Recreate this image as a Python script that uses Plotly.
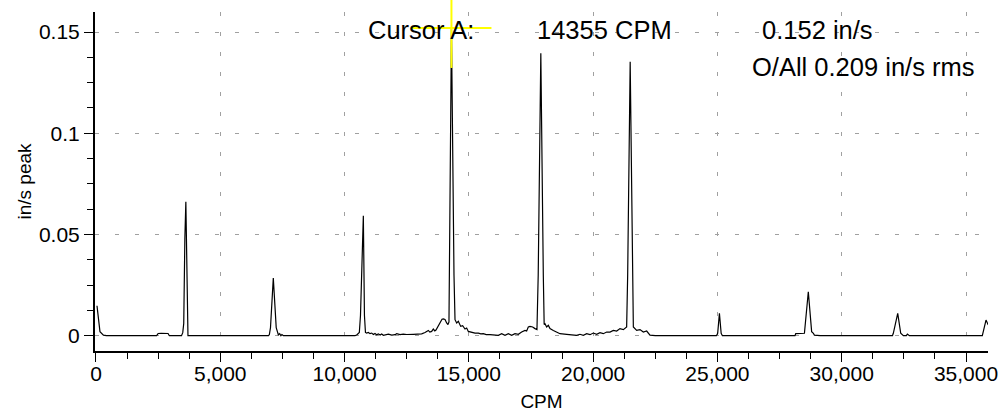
import plotly.graph_objects as go

# ---------------- data ----------------
cpm = [
    40, 160, 300, 420, 2440, 2500, 2620, 2800, 2900, 2950,
    3440, 3490, 3530, 3575, 3615, 3700,
    6940, 6975, 7020, 7133, 7250, 7335, 7390, 7440, 7480, 7540,
    10420, 10500, 10594, 10640, 10755, 10800, 10840, 10889, 10956, 11024,
    11090, 11160, 11224, 11290, 11358, 11430, 11493, 11560, 11627, 11761,
    11900, 12029, 12096, 12230, 12364, 12500, 12767, 13000, 13102, 13236,
    13300, 13370, 13430, 13504, 13571, 13630, 13678, 13730, 13772, 13820,
    13866, 13920, 13973, 14040, 14107, 14160, 14200, 14213, 14300, 14402,
    14443, 14510, 14577, 14671, 14751, 14845, 14912, 14979, 15050, 15113,
    15248, 15382, 15480, 15583, 15700, 15851, 16000, 16119, 16186, 16320,
    16454, 16588, 16722, 16856, 16990, 17124, 17258, 17325, 17392, 17460,
    17567, 17661, 17740, 17790, 17895, 17995, 18030, 18063, 18130, 18197,
    18264, 18398, 18532, 18666, 18935, 19337, 19471, 19605, 19739, 19873,
    20007, 20142, 20276, 20410, 20544, 20678, 20812, 20946, 21080, 21214,
    21348, 21389, 21490, 21590, 21617, 21751, 21885, 22019, 22153, 22287,
    22500, 24960, 25010, 25080, 25150, 25200,
    28120, 28150, 28500, 28656, 28790, 28860, 28900, 29130,
    32040, 32076, 32253, 32374, 32481, 32600, 32642, 32722,
    35656, 35805, 35897,
]
amplitude = [
    0.0148, 0.0020, 0.0003, 0.0, 0.0, 0.0011, 0.0012, 0.0012, 0.0011, 0.0,
    0.0, 0.0015, 0.0060, 0.0480, 0.0662, 0.0,
    0.0, 0.0006, 0.0040, 0.0285, 0.0040, 0.0005, 0.0010, 0.0, 0.0006, 0.0,
    0.0, 0.0005, 0.0016, 0.0100, 0.0592, 0.0100, 0.0016, 0.0013, 0.0016, 0.0010,
    0.0013, 0.0006, 0.0011, 0.0005, 0.0009, 0.0003, 0.0008, 0.0002, 0.0005, 0.0008,
    0.0003, 0.0005, 0.0010, 0.0005, 0.0008, 0.0006, 0.0007, 0.0008, 0.0009, 0.0016,
    0.0022, 0.0026, 0.0018, 0.0021, 0.0033, 0.0024, 0.0028, 0.0040, 0.0046, 0.0060,
    0.0071, 0.0081, 0.0083, 0.0080, 0.0063, 0.0055, 0.0068, 0.0300, 0.1520, 0.0300,
    0.0079, 0.0063, 0.0071, 0.0046, 0.0049, 0.0033, 0.0038, 0.0021, 0.0018, 0.0016,
    0.0013, 0.0013, 0.0009, 0.0010, 0.0005, 0.0005, 0.0004, 0.0006, 0.0002, 0.0010,
    0.0002, 0.0010, 0.0002, 0.0010, 0.0007, 0.0018, 0.0026, 0.0023, 0.0043, 0.0046,
    0.0043, 0.0035, 0.0030, 0.0300, 0.1395, 0.0300, 0.0055, 0.0059, 0.0043, 0.0051,
    0.0035, 0.0026, 0.0018, 0.0010, 0.0007, 0.0002, 0.0007, 0.0002, 0.0010, 0.0005,
    0.0013, 0.0007, 0.0015, 0.0010, 0.0018, 0.0018, 0.0026, 0.0023, 0.0035, 0.0030,
    0.0043, 0.0300, 0.1353, 0.0300, 0.0043, 0.0026, 0.0030, 0.0018, 0.0023, 0.0003,
    0.0, 0.0, 0.0012, 0.0110, 0.0012, 0.0,
    0.0, 0.0010, 0.0012, 0.0217, 0.0020, 0.0012, 0.0003, 0.0,
    0.0, 0.0012, 0.0110, 0.0012, 0.0, 0.0, 0.0008, 0.0,
    0.0, 0.0077, 0.0053,
]

x_tick_vals = [0, 5000, 10000, 15000, 20000, 25000, 30000, 35000]
x_tick_text = ["0", "5,000", "10,000", "15,000", "20,000", "25,000", "30,000", "35,000"]
y_tick_vals = [0, 0.05, 0.1, 0.15]
y_tick_text = ["0", "0.05", "0.1", "0.15"]

cursor_cpm = 14300          # cursor position as drawn
cursor_amp = 0.152
cursor_label = "Cursor A:"
cursor_freq_text = "14355 CPM"
cursor_amp_text = "0.152 in/s"
overall_text = "O/All 0.209 in/s rms"

# ---------------- figure ----------------
X_RANGE = [-40, 35885]
Y_RANGE = [-0.00756, 0.15988]
FONT = "Liberation Sans, Arial, sans-serif"

fig = go.Figure()
fig.add_trace(go.Scatter(
    x=cpm, y=amplitude, mode="lines",
    line=dict(color="#000000", width=1.2),
    hoverinfo="skip",
))

axis_common = dict(
    showline=True, linecolor="black", linewidth=2,
    ticks="outside", ticklen=9, tickwidth=1, tickcolor="black",
    showgrid=True, gridcolor="#a0a0a0", gridwidth=1, griddash="4px,16px",
    zeroline=False, automargin=False,
    tickfont=dict(family=FONT, size=21, color="black"),
)

fig.update_xaxes(
    range=X_RANGE, tickmode="array", tickvals=x_tick_vals, ticktext=x_tick_text,
    ticklabelstandoff=-6,
    minor=dict(tickmode="linear", tick0=0, dtick=1250, ticks="outside",
               ticklen=6, tickcolor="black", tickwidth=1, showgrid=False),
    title=dict(text="CPM", font=dict(family=FONT, size=19, color="black"), standoff=10),
    **axis_common,
)
fig.update_yaxes(
    range=Y_RANGE, tickmode="array", tickvals=y_tick_vals, ticktext=y_tick_text,
    minor=dict(tickmode="linear", tick0=0, dtick=0.0125, ticks="outside",
               ticklen=6, tickcolor="black", tickwidth=1, showgrid=False),
    title=dict(text="in/s peak", font=dict(family=FONT, size=19, color="black"), standoff=2),
    **axis_common,
)

# cursor cross-hair (+-40 px)
half_x = 1609
half_y = 0.01976
yspan = Y_RANGE[1] - Y_RANGE[0]
fig.add_shape(type="line", xref="x", yref="y",
              x0=cursor_cpm - half_x, x1=cursor_cpm + half_x,
              y0=cursor_amp, y1=cursor_amp,
              line=dict(color="#ffff00", width=2), layer="above")
fig.add_shape(type="line", xref="x", yref="paper",
              x0=cursor_cpm, x1=cursor_cpm,
              y0=(cursor_amp - half_y - Y_RANGE[0]) / yspan,
              y1=(cursor_amp + half_y - Y_RANGE[0]) / yspan,
              line=dict(color="#ffff00", width=2), layer="above")

ann_font = dict(family=FONT, size=25.5, color="black")
for txt, xp, yp in [
    (cursor_label, 0.3061, 0.9469),
    (cursor_freq_text, 0.4946, 0.9469),
    (cursor_amp_text, 0.7466, 0.9469),
    (overall_text, 0.7354, 0.8378),
]:
    fig.add_annotation(text=txt, xref="paper", yref="paper", x=xp, y=yp,
                       xanchor="left", yanchor="middle", showarrow=False,
                       font=ann_font, borderpad=0, borderwidth=0)

fig.update_layout(
    width=1000, height=413,
    margin=dict(l=95, r=12, t=12, b=62),
    paper_bgcolor="white", plot_bgcolor="white",
    showlegend=False,
    font=dict(family=FONT, color="black"),
)

fig.write_html("out.html")
